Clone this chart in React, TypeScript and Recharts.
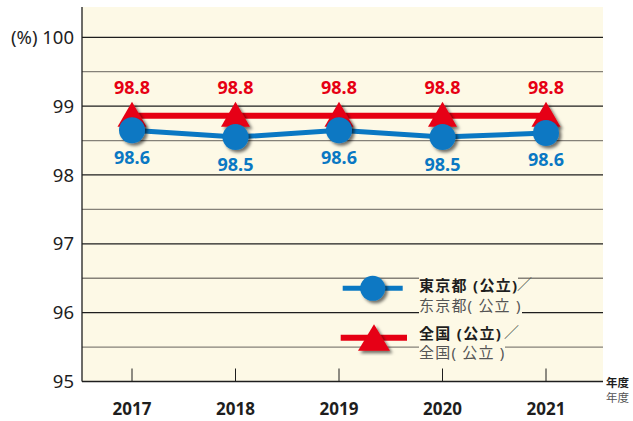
import React from 'react';
import {
  LineChart,
  Line,
  XAxis,
  YAxis,
  CartesianGrid,
  ReferenceLine,
  LabelList,
} from 'recharts';

const years = ['2017', '2018', '2019', '2020', '2021'];
// plotted positions, printed figures kept as text
const tokyoValues = [98.65, 98.55, 98.65, 98.55, 98.61];
const tokyoLabels = ['98.6', '98.5', '98.6', '98.5', '98.6'];
const nationalValues = [98.86, 98.86, 98.86, 98.86, 98.86];
const nationalLabels = ['98.8', '98.8', '98.8', '98.8', '98.8'];
const yTicks = [95, 96, 97, 98, 99, 100];
const gridLevels = [95.5, 96, 96.5, 97, 97.5, 98, 98.5, 99, 99.5, 100];

const BLUE = '#0a78c3';
const RED = '#e60013';
const CREAM = '#fdf9e6';
const INK = '#1e1e1e';

const data = years.map((year, i) => ({
  year,
  tokyo: tokyoValues[i],
  tokyoLabel: tokyoLabels[i],
  national: nationalValues[i],
  nationalLabel: nationalLabels[i],
}));

const CircleDot = (props: any) => {
  const { cx, cy } = props;
  if (cx == null || cy == null) return null;
  return <circle cx={cx} cy={cy} r={13} fill={BLUE} filter="url(#markShadow)" />;
};

const TriangleDot = (props: any) => {
  const { cx, cy } = props;
  if (cx == null || cy == null) return null;
  const pts = `${cx},${cy - 14} ${cx - 14.5},${cy + 11} ${cx + 14.5},${cy + 11}`;
  return <polygon points={pts} fill={RED} filter="url(#markShadow)" />;
};

const valueLabel = (color: string, dy: number) => (props: any) => {
  const { x, y, value } = props;
  return (
    <text
      x={x}
      y={y + dy}
      textAnchor="middle"
      dominantBaseline="central"
      fill={color}
      fontSize={18}
      fontWeight={700}
    >
      {value}
    </text>
  );
};

const YearTick = (props: any) => {
  const { x, y, payload } = props;
  return (
    <g>
      <line x1={x} x2={x} y1={y} y2={y - 13} stroke={INK} strokeWidth={1} />
      <text
        x={x}
        y={y + 27}
        textAnchor="middle"
        dominantBaseline="central"
        fill={INK}
        fontSize={17}
        fontWeight={700}
      >
        {payload.value}
      </text>
    </g>
  );
};

const legendBold: React.CSSProperties = {
  position: 'absolute',
  fontSize: 15,
  fontWeight: 700,
  lineHeight: '18px',
  color: INK,
  background: CREAM,
  letterSpacing: 1.3,
  whiteSpace: 'nowrap',
};
const legendPlain: React.CSSProperties = {
  position: 'absolute',
  fontSize: 15,
  lineHeight: '17px',
  color: '#555',
  background: CREAM,
  letterSpacing: 1.2,
  whiteSpace: 'nowrap',
};
const legendSlash: React.CSSProperties = {
  position: 'absolute',
  fontSize: 15,
  lineHeight: '18px',
  color: '#555',
};

export default function App() {
  return (
    <div
      style={{
        position: 'absolute',
        left: 0,
        top: 0,
        width: 633,
        height: 421,
        background: '#fff',
        fontFamily: '"Noto Sans", "Noto Sans CJK JP", sans-serif',
      }}
    >
      <svg width={0} height={0} style={{ position: 'absolute' }}>
        <defs>
          <filter id="markShadow" x="-50%" y="-50%" width="200%" height="200%">
            <feDropShadow dx={2.5} dy={2.5} stdDeviation={1.4} floodColor="#000" floodOpacity={0.55} />
          </filter>
        </defs>
      </svg>

      <LineChart
        width={633}
        height={421}
        data={data}
        margin={{ top: 7, right: 30, bottom: 0, left: 0 }}
      >
        <CartesianGrid fill={CREAM} horizontal={false} vertical={false} />
        {gridLevels.map((v) => (
          <ReferenceLine
            key={v}
            y={v}
            stroke={Number.isInteger(v) ? INK : '#858178'}
            strokeWidth={1.3}
          />
        ))}
        <XAxis
          dataKey="year"
          height={39.5}
          padding={{ left: 50, right: 57 }}
          axisLine={{ stroke: INK, strokeWidth: 1.3 }}
          tickLine={false}
          tickSize={0}
          tickMargin={0}
          tick={<YearTick />}
          interval={0}
        />
        <YAxis
          width={82}
          domain={[95, 100.44]}
          ticks={yTicks}
          allowDataOverflow
          axisLine={{ stroke: INK, strokeWidth: 1.3 }}
          tickLine={false}
          tick={{ fill: INK, fontSize: 18.5 }}
          tickFormatter={(v: number) => (v === 100 ? '(%) 100' : String(v))}
        />
        <Line
          dataKey="national"
          stroke={RED}
          strokeWidth={6}
          dot={<TriangleDot />}
          activeDot={false}
          isAnimationActive={false}
        >
          <LabelList dataKey="nationalLabel" content={valueLabel(RED, -29)} />
        </Line>
        <Line
          dataKey="tokyo"
          stroke={BLUE}
          strokeWidth={5}
          dot={<CircleDot />}
          activeDot={false}
          isAnimationActive={false}
        >
          <LabelList dataKey="tokyoLabel" content={valueLabel(BLUE, 26.5)} />
        </Line>
      </LineChart>

      {/* legend */}
      <svg width={74} height={36} style={{ position: 'absolute', left: 338, top: 272 }}>
        <line x1={4.7} x2={64.7} y1={16.3} y2={16.3} stroke={BLUE} strokeWidth={5} />
        <circle cx={34.7} cy={16.3} r={12.5} fill={BLUE} filter="url(#markShadow)" />
      </svg>
      <div style={{ ...legendBold, left: 419, top: 276 }}>東京都 (公立)</div>
      <div style={{ ...legendSlash, left: 517, top: 275 }}>／</div>
      <div style={{ ...legendPlain, left: 419, top: 297 }}>东京都( 公立 )</div>

      <svg width={74} height={36} style={{ position: 'absolute', left: 338, top: 320 }}>
        <line x1={2.7} x2={69} y1={17.7} y2={17.7} stroke={RED} strokeWidth={6} />
        <polygon points="36,4.3 20,30.7 52,30.7" fill={RED} filter="url(#markShadow)" />
      </svg>
      <div style={{ ...legendBold, left: 419, top: 324 }}>全国 (公立)</div>
      <div style={{ ...legendSlash, left: 504, top: 323 }}>／</div>
      <div style={{ ...legendPlain, left: 419, top: 344 }}>全国( 公立 )</div>

      <div
        style={{
          position: 'absolute',
          left: 606,
          top: 376,
          fontSize: 11.5,
          fontWeight: 700,
          lineHeight: '14px',
          color: INK,
        }}
      >
        年度
      </div>
      <div
        style={{
          position: 'absolute',
          left: 606,
          top: 391,
          fontSize: 11.5,
          lineHeight: '14px',
          color: '#555',
        }}
      >
        年度
      </div>
    </div>
  );
}
